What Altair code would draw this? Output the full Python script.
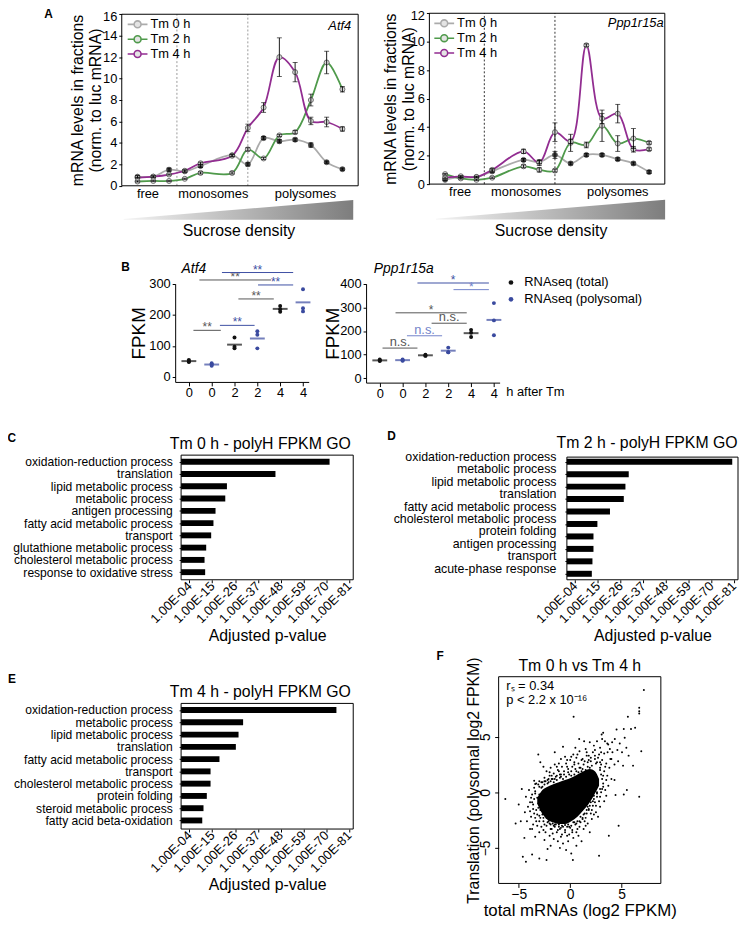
import json
import altair as alt
import pandas as pd

W, H, M = 739, 919, 8
FONT = "Liberation Sans"


def px(v):
    """page pixel -> chart pixel (page has an 8px margin)"""
    return v - M


# ======================= A: polysome profiles =======================
series = ["Tm 0 h", "Tm 2 h", "Tm 4 h"]
series_colors = ["#ababab", "#4f9a4b", "#922d91"]
marker_fills = ["#3b3b3b", "#d8d8d8", "#d8d8d8"]
region_names = ["free", "monosomes", "polysomes"]
divider_fractions = [3.5, 8]

atf4_fraction = [1, 2, 3, 4, 5, 7, 8, 9, 10, 11, 12, 13, 14]
atf4_tm0 = [0.85, 0.85, 1.5, 1.35, 1.85, 2.85, 2.0, 4.45, 4.15, 4.3, 3.8, 2.2, 1.55]
atf4_tm2 = [0.4, 0.45, 0.45, 0.65, 1.2, 1.2, 3.4, 2.55, 4.7, 5.0, 8.0, 11.5, 9.0]
atf4_tm4 = [0.75, 0.85, 1.05, 1.4, 2.1, 2.8, 5.4, 7.3, 12.0, 10.6, 6.05, 5.95, 5.3]
atf4_tm0_sd = [0.1, 0.1, 0.15, 0.1, 0.15, 0.1, 0.15, 0.15, 0.15, 0.15, 0.2, 0.1, 0.1]
atf4_tm2_sd = [0.05, 0.05, 0.05, 0.05, 0.1, 0.1, 0.15, 0.1, 0.1, 0.15, 0.55, 1.05, 0.25]
atf4_tm4_sd = [0.05, 0.05, 0.05, 0.1, 0.1, 0.1, 0.35, 0.45, 1.8, 0.9, 0.35, 0.45, 0.2]
atf4_region_pos = [1.63, 5.78, 11.63]

ppp_fraction = [1, 2, 3, 4, 6, 7, 8, 9, 10, 11, 12, 13, 14]
ppp_tm0 = [0.3, 0.5, 0.5, 0.9, 1.7, 1.55, 2.05, 1.45, 2.05, 2.05, 1.75, 1.45, 0.85]
ppp_tm2 = [0.7, 0.4, 0.3, 0.45, 1.25, 1.0, 0.95, 2.9, 2.75, 4.1, 2.85, 3.2, 2.9]
ppp_tm4 = [0.45, 0.55, 0.5, 1.0, 2.3, 1.5, 3.65, 3.0, 9.75, 4.6, 4.95, 2.45, 2.45]
ppp_tm0_sd = [0.05, 0.05, 0.05, 0.1, 0.1, 0.1, 0.25, 0.1, 0.1, 0.1, 0.1, 0.1, 0.1]
ppp_tm2_sd = [0.05, 0.05, 0.05, 0.05, 0.1, 0.15, 0.1, 0.6, 0.2, 1.1, 0.55, 0.7, 0.1]
ppp_tm4_sd = [0.05, 0.05, 0.05, 0.1, 0.15, 0.2, 0.65, 0.15, 0.1, 0.35, 0.65, 0.2, 0.1]
ppp_region_pos = [1.93, 6.13, 11.97]

wedge_position = [0, 1]
wedge_density = [0.03, 1]

# ======================= B: FPKM dot plots =======================
b_groups = [1, 2, 3, 4, 5, 6]
b_hours = ["0", "0", "2", "2", "4", "4"]
b_kinds = ["RNAseq (total)", "RNAseq (polysomal)"] * 3
kind_order = ["RNAseq (total)", "RNAseq (polysomal)"]
kind_colors = ["#111111", "#3a4a9f"]
tone_colors = {"dark": "#555555", "blue": "#3d4fa3", "light": "#7283c9"}

atf4_reps = [[55, 50, 48], [44, 40, 36], [127, 97, 92], [147, 136, 92], [228, 218, 210], [282, 221, 211]]
atf4_center = [51, 40, 104, 124, 219, 240]
atf4_tests = [
    (1.2, 2.4, 150, "**", "dark"),
    (2.36, 3.88, 166, "**", "blue"),
    (3.17, 4.72, 251, "**", "dark"),
    (4.03, 5.57, 296, "**", "blue"),
    (1.46, 4.6, 312, "**", "dark"),
    (2.45, 5.57, 336, "**", "blue"),
]

ppp_reps = [[80, 75, 73], [80, 76, 74], [100, 97, 95], [130, 110, 110], [205, 193, 175], [318, 245, 182]]
ppp_center = [76, 77, 97.5, 117, 191, 247]
ppp_tests = [
    (1.12, 2.65, 128, "n.s.", "dark"),
    (2.19, 3.73, 180, "n.s.", "light"),
    (3.27, 4.81, 233, "n.s.", "dark"),
    (1.69, 4.81, 277, "*", "dark"),
    (2.65, 5.78, 403, "*", "blue"),
    (4.23, 5.78, 375, "*", "light"),
]

# ======================= C, D, E: GO terms =======================
go_ticks = [4, 15, 26, 37, 48, 59, 70, 81]
go_tick_labels = ["1.00E-04", "1.00E-15", "1.00E-26", "1.00E-37", "1.00E-48", "1.00E-59", "1.00E-70", "1.00E-81"]

go_tm0_terms = ["oxidation-reduction process", "translation", "lipid metabolic process", "metabolic process",
                "antigen processing", "fatty acid metabolic process", "transport", "glutathione metabolic process",
                "cholesterol metabolic process", "response to oxidative stress"]
go_tm0_score = [71.6, 45.5, 22.1, 21.3, 16.6, 15.6, 14.5, 12.1, 11.3, 11.6]

go_tm2_terms = ["oxidation-reduction process", "metabolic process", "lipid metabolic process", "translation",
                "fatty acid metabolic process", "cholesterol metabolic process", "protein folding",
                "antigen processing", "transport", "acute-phase response"]
go_tm2_score = [80.2, 30.0, 28.4, 27.6, 20.9, 14.8, 12.9, 12.9, 12.4, 12.1]

go_tm4_terms = ["oxidation-reduction process", "metabolic process", "lipid metabolic process", "translation",
                "fatty acid metabolic process", "transport", "cholesterol metabolic process", "protein folding",
                "steroid metabolic process", "fatty acid beta-oxidation"]
go_tm4_score = [74.9, 29.9, 27.7, 26.4, 18.5, 14.2, 14.2, 12.4, 10.8, 10.2]

# ======================= F: scatter =======================
# solid core of the cloud (upper / lower outline)
core_total = [-3.2, -2.8, -2.3, -1.7, -1.1, -0.5, 0.1, 0.7, 1.3, 1.9, 2.4, 2.8]
core_poly_upper = [-0.5, 0.1, 0.45, 0.7, 0.9, 1.1, 1.3, 1.6, 1.9, 2.1, 1.9, 1.2]
core_poly_lower = [-1.0, -1.8, -2.4, -2.7, -2.85, -2.85, -2.6, -2.2, -1.6, -0.9, -0.1, 0.6]

f_outliers = [(7.15, 9.2), (6.7, 7.6), (6.7, 7.3), (6.7, 7.1), (0.33, 6.8), (5.6, 6.8), (6.3, 5.8), (5.9, 5.7),
              (5.2, 5.7), (4.5, 5.65), (3.2, 5.35), (3.05, 5.2), (0.87, 4.8), (1.35, 4.6), (6.9, 3.7), (6.1, 2.4),
              (4.3, 1.1), (5.5, 0.2), (5.2, -0.2), (4.4, -0.24), (6.7, -0.4), (-6.3, -0.6), (-4.7, 0.3),
              (-5.0, -1.1), (-5.3, -2.8), (-4.8, -2.6), (-4.45, -4.1), (-3.7, -3.3), (-4.6, -5.8), (-4.3, -6.25),
              (-3.7, -5.6), (-3.0, -5.95), (-2.3, -6.1), (0.26, -6.1), (2.8, -5.7), (3.75, -3.9), (4.7, -3.0),
              (-3.1, 3.4), (-2.9, 2.7), (-0.7, 4.1), (-1.5, 3.6), (-3.5, 1.04), (-3.4, 0.74)]
f_tail = [(3.37, 4.6), (3.69, 4.3), (3.85, 3.9), (4.07, 4.5), (4.33, 4.8), (4.58, 3.8), (4.81, 4.4), (5.03, 3.6),
          (5.29, 4.9), (5.45, 4.0), (5.67, 3.3), (4.65, 2.8), (5.13, 2.4), (4.0, 3.0), (3.63, 3.6)]
f_halo_upper = [(-3.3, 0.8), (-3.0, 1.0), (-2.7, 0.9), (-2.5, 1.3), (-2.2, 1.1), (-2.0, 1.5), (-1.8, 1.2),
                (-1.6, 1.7), (-1.4, 1.4), (-1.2, 2.0), (-1.0, 1.6), (-0.8, 2.3), (-0.6, 1.9), (-0.4, 2.6),
                (-0.2, 2.1), (0.0, 2.9), (0.2, 2.3), (0.4, 2.5), (0.6, 3.1), (0.8, 2.6), (1.0, 2.2), (1.2, 3.0),
                (1.4, 2.8), (1.6, 3.3), (1.8, 2.9), (2.0, 3.1), (2.2, 3.6), (2.4, 3.0), (2.6, 2.7), (2.8, 3.4),
                (3.0, 2.5), (-2.3, 1.9), (-1.9, 2.2), (-1.1, 2.6), (-0.5, 3.2), (0.3, 3.4), (0.9, 3.7),
                (1.5, 3.9), (2.3, 4.2), (2.9, 4.0), (-0.9, 3.0), (-1.5, 2.5), (0.5, 4.0), (1.9, 4.5), (2.6, 4.6),
                (3.3, 3.5), (3.1, 4.8), (3.6, 4.4), (-2.6, 2.3), (-3.1, 0.7), (-2.8, 0.9), (-2.4, 1.0),
                (-2.1, 1.2), (-1.7, 1.2), (-1.3, 1.5), (-0.9, 1.6), (-0.6, 1.6), (-0.2, 1.8), (0.1, 1.9),
                (0.5, 2.1), (0.9, 2.2), (1.3, 2.5), (1.7, 2.7), (2.0, 2.8), (2.5, 2.6), (2.9, 2.2)]
f_halo_lower = [(-3.2, -2.0), (-2.9, -2.3), (-2.6, -2.6), (-2.3, -3.0), (-2.0, -2.8), (-1.8, -3.3), (-1.5, -3.1),
                (-1.3, -3.6), (-1.0, -3.3), (-0.8, -3.8), (-0.5, -3.4), (-0.3, -3.9), (0.0, -3.2), (0.2, -3.6),
                (0.5, -2.9), (0.7, -3.3), (1.0, -2.7), (1.2, -2.3), (1.4, -2.6), (1.6, -1.9), (1.8, -1.5),
                (2.0, -1.9), (2.2, -1.2), (2.4, -0.9), (2.6, -0.4), (2.8, -0.8), (3.0, 0.0), (3.2, 0.5),
                (-2.8, -3.1), (-2.4, -3.6), (-2.0, -3.9), (-1.6, -4.2), (-1.2, -4.4), (-0.7, -4.6), (-0.2, -4.4),
                (0.3, -4.1), (0.8, -3.9), (1.3, -3.3), (1.7, -2.8), (2.1, -2.4), (2.5, -1.8), (-3.0, -3.6),
                (-2.5, -4.3), (-1.9, -4.8), (-1.0, -5.0), (-0.4, -5.2), (0.6, -4.8), (1.1, -4.4), (1.9, -3.6),
                (2.7, -2.2), (-3.4, -4.0), (-2.2, -5.1), (0.1, -5.5), (-3.3, -1.6), (-3.0, -2.1), (-2.6, -2.3),
                (-2.2, -2.7), (-1.9, -2.9), (-1.5, -2.9), (-1.1, -3.1), (-0.7, -3.1), (-0.3, -3.1), (0.1, -3.0),
                (0.4, -2.7), (0.9, -2.6), (1.3, -2.0), (1.6, -1.6), (1.9, -1.2), (2.3, -0.6), (2.6, -0.1),
                (2.9, 0.3)]
f_halo_sides = [(-3.7, -0.2), (-3.9, -0.9), (-3.6, -1.5), (-3.8, -2.2), (-4.1, -1.3), (-4.0, 0.2), (-3.5, 0.4),
                (-4.3, -0.4), (-3.3, -2.6), (-3.6, -2.9), (-4.2, -2.6), (-3.9, -3.3), (-4.4, -1.8), (-3.4, 0.1),
                (-3.5, -0.6), (-3.6, -1.1), (3.1, 1.2), (3.3, 1.9), (3.5, 2.6), (3.2, 0.8), (3.4, 0.2), (3.6, 1.5),
                (3.8, 2.2), (3.0, 1.6), (2.9, 2.0), (3.7, 0.6), (3.9, 3.0), (3.5, -0.3), (4.0, 1.2), (3.3, -0.8),
                (4.1, 3.6), (4.3, 2.5)]
f_halo_belt = [(-3.2, -0.5), (-3.1, -1.0), (-3.0, -0.2), (-2.9, -1.6), (-2.7, 0.5), (-2.6, -1.9), (-2.5, 0.7),
               (-2.3, -2.3), (-2.2, 0.8), (-2.0, -2.5), (-1.9, 1.0), (-1.7, -2.8), (-1.6, 0.9), (-1.4, -2.9),
               (-1.3, 1.1), (-1.1, -2.9), (-1.0, 1.3), (-0.8, -3.0), (-0.7, 1.2), (-0.5, -2.95), (-0.4, 1.4),
               (-0.2, -2.9), (0.1, 1.5), (0.3, -2.7), (0.4, 1.6), (0.7, -2.6), (0.8, 1.8), (1.0, -2.2), (1.1, 1.9),
               (1.4, -1.9), (1.5, 2.0), (1.7, -1.3), (1.9, 2.2), (2.0, -0.9), (2.1, 1.9), (2.3, -0.3), (2.4, 1.4),
               (2.5, 0.4), (2.6, 1.1), (2.7, 0.8), (2.1, 2.4), (1.7, 2.3), (1.2, 2.1), (0.6, 1.9), (-0.1, 1.6),
               (-0.9, 1.4), (-1.5, 1.2), (-2.1, 0.9), (-2.8, 0.4), (-3.1, -1.4), (-2.7, -2.0), (-2.1, -2.6),
               (-1.6, -3.0), (-0.9, -3.2), (-0.1, -3.1), (0.6, -2.8), (1.2, -2.4), (1.8, -1.6), (2.2, -0.8),
               (2.6, 0.0), (3.1, 2.9), (2.7, 3.1), (3.4, 2.3), (3.0, 3.6), (2.4, 3.8), (1.6, 3.6), (0.7, 3.4),
               (0.1, 3.2), (-0.3, 2.9), (-1.3, 2.3), (-2.0, 1.8), (-3.8, -0.5), (-3.9, -1.7), (-3.4, -2.3),
               (-3.2, -3.0), (-2.6, -3.4), (-1.7, -3.7), (-0.9, -4.0), (-0.1, -3.8), (0.6, -3.6), (1.5, -3.0),
               (2.3, -2.0), (2.9, -1.3), (3.2, 1.5), (3.1, 0.3), (2.9, -0.4), (2.5, -1.2), (2.1, -1.6),
               (1.5, -2.3), (0.9, -3.1), (0.2, -3.4), (-0.5, -3.6), (-1.2, -3.4), (-1.9, -3.3), (-2.5, -2.9),
               (-3.0, -2.6), (-3.5, -1.9), (-3.7, -0.9), (-3.4, -0.1), (-3.0, 0.5), (-2.5, 1.0), (-1.8, 1.5),
               (-1.1, 1.9), (-0.3, 2.3), (0.4, 2.7), (1.1, 2.9), (1.8, 3.3), (2.4, 3.3), (2.9, 2.7), (3.5, 1.1)]

LEG_PATH = "M-2.86,0L-1,0M1,0L2.86,0M1,0A1,1,0,1,1,-1,0A1,1,0,1,1,1,0"


# ======================= helpers =======================
def lin(domain, rng):
    return alt.Scale(domain=domain, range=rng, nice=False, zero=False)


def frame_layer(xd, yd, X, Y):
    df = pd.DataFrame({"x0": [xd[0]], "x1": [xd[1]], "y0": [yd[0]], "y1": [yd[1]]})
    return alt.Chart(df).mark_rect(fillOpacity=0, stroke="black", strokeWidth=1).encode(
        x=alt.X("x0:Q", scale=X, axis=None), x2="x1",
        y=alt.Y("y0:Q", scale=Y, axis=None), y2="y1")


def text_layer(labels, xs, ys, X, Y, **mark):
    df = pd.DataFrame({"label": labels, "x": xs, "y": ys})
    return alt.Chart(df).mark_text(**mark).encode(
        x=alt.X("x:Q", scale=X, axis=None), y=alt.Y("y:Q", scale=Y, axis=None), text="label:N")


def profile_frame(fraction, means, sds):
    rows = []
    for name, m, s in zip(series, means, sds):
        for f, v, e in zip(fraction, m, s):
            rows.append({"fraction": f, "series": name, "level": v, "lo": v - e, "hi": v + e})
    return pd.DataFrame(rows)


def profile_panel(fraction, means, sds, xr, yr, ymax, region_pos, div_color, legend_xy,
                  gene, gene_xy, title_pad, letter_xy=None):
    df = profile_frame(fraction, means, sds)
    X = lin([0, 15], xr)
    Y = lin([0, ymax], yr)
    x_axis = alt.Axis(orient="bottom", offset=yr[0] - H, values=region_pos,
                      labelExpr=f"{json.dumps(region_names)}[indexof({json.dumps(region_pos)}, datum.value)]",
                      tickSize=0, domain=False, labelFontSize=13, labelPadding=2, title=None,
                      labelFlush=False, labelOverlap=False)
    y_axis = alt.Axis(orient="left", offset=-xr[0], values=list(range(0, ymax + 1, 2)), tickSize=3,
                      labelPadding=2, labelFontSize=13, domain=False,
                      labelOffset={"condition": {"test": f"datum.value == {ymax}", "value": 2}, "value": 0},
                      title=["mRNA levels in fractions", "(norm. to luc mRNA)"], titleFontSize=16,
                      titlePadding=title_pad, titleLineHeight=18)
    base = alt.Chart(df)
    xe = alt.X("fraction:Q", scale=X, axis=None)
    lines = base.mark_line(interpolate="catmull-rom", strokeWidth=1.8).encode(
        x=alt.X("fraction:Q", scale=X, axis=x_axis),
        y=alt.Y("level:Q", scale=Y, axis=y_axis),
        color=alt.Color("series:N", scale=alt.Scale(domain=series, range=series_colors),
                        legend=alt.Legend(orient="none", legendX=legend_xy[0], legendY=legend_xy[1], title=None,
                                          symbolType=LEG_PATH, symbolSize=49, symbolStrokeWidth=1.6,
                                          symbolFillColor="#e4e4e4", labelFontSize=13, labelOffset=6.5,
                                          rowPadding=0, padding=0)))
    points = base.mark_circle(size=26, stroke="#555555", strokeWidth=0.8, opacity=1).encode(
        x=xe, y=alt.Y("level:Q", scale=Y, axis=None),
        fill=alt.Fill("series:N", scale=alt.Scale(domain=series, range=marker_fills), legend=None))
    err = base.mark_rule(color="black", strokeWidth=0.9).encode(
        x=xe, y=alt.Y("lo:Q", scale=Y, axis=None), y2="hi")
    cap_lo = base.mark_tick(orient="horizontal", size=5, thickness=0.9, color="black").encode(
        x=xe, y=alt.Y("lo:Q", scale=Y, axis=None))
    cap_hi = base.mark_tick(orient="horizontal", size=5, thickness=0.9, color="black").encode(
        x=xe, y=alt.Y("hi:Q", scale=Y, axis=None))
    div_df = pd.DataFrame({"x": divider_fractions, "y0": 0, "y1": ymax})
    dividers = alt.Chart(div_df).mark_rule(strokeDash=[2, 2], color=div_color, strokeWidth=1).encode(
        x=alt.X("x:Q", scale=X, axis=None), y=alt.Y("y0:Q", scale=Y, axis=None), y2="y1")
    layers = [dividers, lines, points, err, cap_lo, cap_hi, frame_layer([0, 15], [0, ymax], X, Y),
              text_layer([gene], [gene_xy[0]], [gene_xy[1]], X, Y, fontSize=13, fontStyle="italic",
                         align="right", baseline="middle")]
    if letter_xy is not None:
        layers.append(text_layer(["A"], [letter_xy[0]], [letter_xy[1]], X, Y, fontSize=12,
                                 fontWeight="bold"))
    return layers


def wedge_panel(xr, yr):
    df = pd.DataFrame({"position": wedge_position, "density": wedge_density, "base": [0, 0]})
    grad = alt.LinearGradient(gradient="linear",
                              stops=[alt.GradientStop(color="#f4f4f4", offset=0),
                                     alt.GradientStop(color="#7d7d7d", offset=1)],
                              x1=0, x2=1, y1=0, y2=0)
    return [alt.Chart(df).mark_area(color=grad).encode(
        x=alt.X("position:Q", scale=lin([0, 1], xr),
                axis=alt.Axis(orient="bottom", offset=yr[0] - H, labels=False, ticks=False, domain=False,
                              title="Sucrose density", titleFontSize=16, titlePadding=3)),
        y=alt.Y("density:Q", scale=lin([0, 1], yr), axis=None),
        y2="base")]


def fpkm_panel(reps, center, tests, xr, yr, ydom, yticks, title, title_xy, fpkm_pad,
               legend_xy=None, letter_xy=None, after_xy=None):
    X = lin([0.4, 6.25], xr)
    Y = lin(ydom, yr)
    pts = pd.DataFrame([{"group": g, "kind": k, "fpkm": v}
                        for g, k, vals in zip(b_groups, b_kinds, reps) for v in vals])
    means = pd.DataFrame({"group": b_groups, "kind": b_kinds, "fpkm": center})
    x_axis = alt.Axis(orient="bottom", offset=yr[0] - H, values=b_groups,
                      labelExpr=f"{json.dumps(b_hours)}[datum.value - 1]", tickSize=4, labelPadding=1,
                      labelFontSize=13, title=None, labelFlush=False, labelOverlap=False)
    y_axis = alt.Axis(orient="left", offset=-xr[0], values=yticks, tickSize=3, labelPadding=2,
                      labelFontSize=13, title="FPKM", titleFontSize=19, titlePadding=fpkm_pad)
    if legend_xy is None:
        leg = None
    else:
        leg = alt.Legend(orient="none", legendX=legend_xy[0], legendY=legend_xy[1], title=None,
                         symbolType="circle", symbolSize=22, labelFontSize=13, labelOffset=7,
                         rowPadding=3, padding=0)
    layers = []
    tdf = pd.DataFrame(tests, columns=["x1", "x2", "y", "label", "tone"])
    tdf["xm"] = (tdf["x1"] + tdf["x2"]) / 2
    for tone, col in tone_colors.items():
        sub = tdf[tdf["tone"] == tone]
        if sub.empty:
            continue
        layers.append(alt.Chart(sub).mark_rule(color=col, strokeWidth=1).encode(
            x=alt.X("x1:Q", scale=X, axis=None), x2="x2", y=alt.Y("y:Q", scale=Y, axis=None)))
        stars = sub[sub["label"] != "n.s."]
        if not stars.empty:
            layers.append(alt.Chart(stars).mark_text(color=col, fontSize=12, baseline="alphabetic", dy=1).encode(
                x=alt.X("xm:Q", scale=X, axis=None), y=alt.Y("y:Q", scale=Y, axis=None), text="label:N"))
        ns = sub[sub["label"] == "n.s."]
        if not ns.empty:
            layers.append(alt.Chart(ns).mark_text(color=col, fontSize=13, baseline="alphabetic", dy=-2).encode(
                x=alt.X("xm:Q", scale=X, axis=None), y=alt.Y("y:Q", scale=Y, axis=None), text="label:N"))
    layers.append(alt.Chart(pts).mark_circle(size=16, opacity=1).encode(
        x=alt.X("group:Q", scale=X, axis=x_axis), y=alt.Y("fpkm:Q", scale=Y, axis=y_axis),
        color=alt.Color("kind:N", scale=alt.Scale(domain=kind_order, range=kind_colors), legend=leg)))
    layers.append(alt.Chart(means).mark_tick(orient="horizontal", size=15, thickness=2).encode(
        x=alt.X("group:Q", scale=X, axis=None), y=alt.Y("fpkm:Q", scale=Y, axis=None),
        fill=alt.Fill("kind:N", scale=alt.Scale(domain=kind_order, range=kind_colors), legend=None)))
    layers.append(text_layer([title], [title_xy[0]], [title_xy[1]], X, Y, fontSize=14, fontStyle="italic"))
    if letter_xy is not None:
        layers.append(text_layer(["B"], [letter_xy[0]], [letter_xy[1]], X, Y, fontSize=12, fontWeight="bold"))
    if after_xy is not None:
        layers.append(text_layer(["h after Tm"], [after_xy[0]], [after_xy[1]], X, Y, fontSize=13, align="left"))
    return layers


def go_panel(terms, scores, xr, yr, ydom, label_offset, label_size, label_pad, title, title_xy, letter, letter_xy):
    X = lin([0, 83], xr)
    Y = lin(ydom, yr)
    ranks = list(range(1, len(terms) + 1))
    df = pd.DataFrame({"rank": ranks, "term": terms, "score": scores})
    x_axis = alt.Axis(orient="bottom", offset=yr[1] - H, values=go_ticks,
                      labelExpr=f"{json.dumps(go_tick_labels)}[indexof({json.dumps(go_ticks)}, datum.value)]",
                      labelAngle=-45, labelAlign="right", labelBaseline="middle", tickSize=3, labelPadding=1,
                      labelFontSize=13, title="Adjusted p-value", titleFontSize=16, titlePadding=2,
                      domain=False, labelFlush=False, labelOverlap=False)
    y_axis = alt.Axis(orient="left", offset=-xr[0], values=ranks, labelExpr=f"{json.dumps(terms)}[datum.value - 1]",
                      tickSize=2, labelPadding=label_pad, labelOffset=label_offset, labelFontSize=label_size,
                      domain=False, title=None, labelOverlap=False, labelLimit=400)
    bars = alt.Chart(df).transform_calculate(
        lo="datum.rank - 0.24", hi="datum.rank + 0.24", start="0").mark_rect(color="black").encode(
        x=alt.X("start:Q", scale=X, axis=x_axis), x2="score",
        y=alt.Y("lo:Q", scale=Y, axis=y_axis), y2="hi:Q")
    return [bars, frame_layer([0, 83], ydom, X, Y),
            text_layer([title], [title_xy[0]], [title_xy[1]], X, Y, fontSize=16),
            text_layer([letter], [letter_xy[0]], [letter_xy[1]], X, Y, fontSize=12, fontWeight="bold")]


def scatter_panel(xr, yr):
    xd, yd = [-6.95, 8.8], [-8.2, 10.4]
    X = lin(xd, xr)
    Y = lin(yd, yr)
    core = pd.DataFrame({"total": core_total, "upper": core_poly_upper, "lower": core_poly_lower})
    allpts = f_outliers + f_tail + f_halo_upper + f_halo_lower + f_halo_sides + f_halo_belt
    pts = pd.DataFrame(allpts, columns=["total", "poly"])
    x_axis = alt.Axis(orient="bottom", offset=yr[0] - H, values=[-5, 0, 5], tickSize=4, labelPadding=0,
                      labelFontSize=14, title="total mRNAs (log2 FPKM)", titleFontSize=17, titlePadding=1,
                      domain=False, labelFlush=False)
    y_axis = alt.Axis(orient="left", offset=-xr[0], values=[-5, 0, 5], tickSize=4, labelPadding=2,
                      labelAngle=-90, labelFontSize=14, title="Translation (polysomal log2 FPKM)",
                      titleFontSize=16, titlePadding=-3, domain=False)
    area = alt.Chart(core).mark_area(color="black", interpolate="monotone").encode(
        x=alt.X("total:Q", scale=X, axis=None), y=alt.Y("upper:Q", scale=Y, axis=None), y2="lower")
    dots = alt.Chart(pts).mark_circle(size=4, color="black", opacity=1).encode(
        x=alt.X("total:Q", scale=X, axis=x_axis), y=alt.Y("poly:Q", scale=Y, axis=y_axis))
    return [area, dots, frame_layer(xd, yd, X, Y),
            text_layer(["Tm 0 h vs Tm 4 h"], [0.93], [11.37], X, Y, fontSize=16),
            text_layer(["rₛ = 0.34", "p < 2.2 x 10⁻¹⁶"], [-6.21, -6.21], [9.55, 8.3], X, Y,
                       fontSize=13, align="left"),
            text_layer(["F"], [-12.62], [12.24], X, Y, fontSize=12, fontWeight="bold")]


# ======================= assemble =======================
units = []
units += profile_panel(atf4_fraction, [atf4_tm0, atf4_tm2, atf4_tm4], [atf4_tm0_sd, atf4_tm2_sd, atf4_tm4_sd],
                       [px(123), px(362)], [px(182.7), px(9.3)], 16, atf4_region_pos, "#9a9a9a",
                       (px(132.5), px(13)), "Atf4", (14.56, 14.87), -1, letter_xy=(-4.65, 16.0))
units += profile_panel(ppp_fraction, [ppp_tm0, ppp_tm2, ppp_tm4], [ppp_tm0_sd, ppp_tm2_sd, ppp_tm4_sd],
                       [px(434), px(672)], [px(181), px(8.3)], 12, ppp_region_pos, "#333333",
                       (px(442.5), px(12)), "Ppp1r15a", (14.92, 11.3), -6)
units += wedge_panel([px(125), px(357)], [px(217), px(197)])
units += wedge_panel([px(440.7), px(672.3)], [px(216.7), px(196.7)])
units += fpkm_panel(atf4_reps, atf4_center, atf4_tests, [px(177), px(312)], [px(381), px(281.7)],
                    [-16, 300], [0, 100, 200, 300], "Atf4", (1.22, 347.8), 0, letter_xy=(-1.77, 353.2))
units += fpkm_panel(ppp_reps, ppp_center, ppp_tests, [px(370), px(505)], [px(381.7), px(281.7)],
                    [-18, 400], [0, 100, 200, 300, 400], "Ppp1r15a", (2.05, 462.8), -3,
                    legend_xy=(px(510), px(274)), after_xy=(6.54, -59.8))
units += go_panel(go_tm0_terms, go_tm0_score, [px(183), px(357)], [px(455), px(581)], [0.46, 10.62], 0, 12.2, 7,
                  "Tm 0 h - polyH FPKM GO", (38.2, -0.48), "C", (-81.6, -0.94))
units += go_panel(go_tm2_terms, go_tm2_score, [px(573), px(746)], [px(457), px(581)], [0.63, 10.48], -5.5, 12.5, 9,
                  "Tm 2 h - polyH FPKM GO", (38.9, -0.46), "D", (-85.1, -1.06))
units += go_panel(go_tm4_terms, go_tm4_score, [px(183), px(357)], [px(706), px(833)], [0.46, 10.7], 0, 12.2, 7,
                  "Tm 4 h - polyH FPKM GO", (38.2, -0.43), "E", (-81.6, -1.5))
units += scatter_panel([px(504), px(668)], [px(888), px(679)])

chart = alt.layer(*units).resolve_scale(
    x="independent", y="independent", color="independent", fill="independent"
).resolve_axis(x="independent", y="independent").resolve_legend(
    color="independent", fill="independent"
).properties(
    width=W, height=H, padding=0, autosize=alt.AutoSizeParams(type="none")
).configure(font=FONT).configure_axis(
    grid=False, domainColor="black", tickColor="black", labelColor="black", titleColor="black",
    titleFontWeight="normal"
).configure_legend(labelColor="black").configure_view(stroke=None)

chart.save("out.html", embed_options={"renderer": "svg", "actions": False})
